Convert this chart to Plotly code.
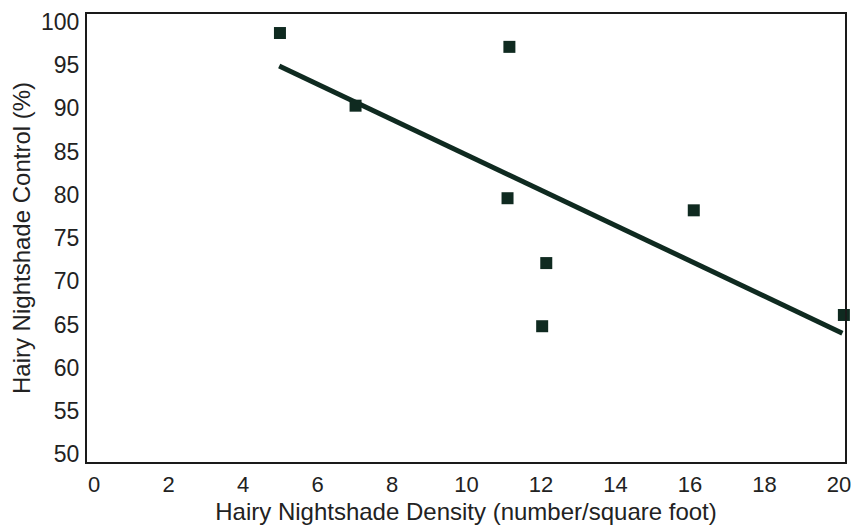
import plotly.graph_objects as go

density = [4.99, 7.02, 11.15, 11.10, 12.14, 12.03, 16.10, 20.13]
control = [98.7, 90.3, 97.1, 79.6, 72.1, 64.8, 78.2, 66.1]
fit_x = [4.97, 20.09]
fit_y = [94.9, 64.0]
x_ticks = [0, 2, 4, 6, 8, 10, 12, 14, 16, 18, 20]
y_ticks = [50, 55, 60, 65, 70, 75, 80, 85, 90, 95, 100]

color = "#0f2a20"
font = "Liberation Sans, Arial, Helvetica, sans-serif"

fig = go.Figure()
fig.add_trace(go.Scatter(x=fit_x, y=fit_y, mode="lines",
                         line=dict(color=color, width=5), showlegend=False,
                         cliponaxis=False))
fig.add_trace(go.Scatter(x=density, y=control, mode="markers",
                         marker=dict(symbol="square", size=12, color=color),
                         showlegend=False, cliponaxis=False))

fig.update_layout(
    width=851, height=525,
    margin=dict(l=87, r=6, t=14, b=63),
    paper_bgcolor="white", plot_bgcolor="white",
    font=dict(family=font, size=23, color="#222"),
    xaxis=dict(range=[-0.19, 20.16], tickvals=x_ticks, showgrid=False, zeroline=False,
               showline=True, linecolor="#1a1a1a", linewidth=2, mirror=True,
               ticks="", ticklabelstandoff=2, automargin=False,
               ticklabeloverflow="allow", tickfont=dict(size=22),
               title=dict(text="Hairy Nightshade Density (number/square foot)",
                          font=dict(size=24))),
    yaxis=dict(range=[49.1, 100.9], tickvals=y_ticks, showgrid=False, zeroline=False,
               showline=True, linecolor="#1a1a1a", linewidth=2, mirror=True,
               ticks="", ticklabelstandoff=1, automargin=False,
               title=dict(text="Hairy Nightshade Control (%)",
                          font=dict(size=24), standoff=4)),
)

fig.write_html("out.html", config={"displayModeBar": False},
               post_script="document.body.style.margin='0';document.body.style.overflow='hidden';")
